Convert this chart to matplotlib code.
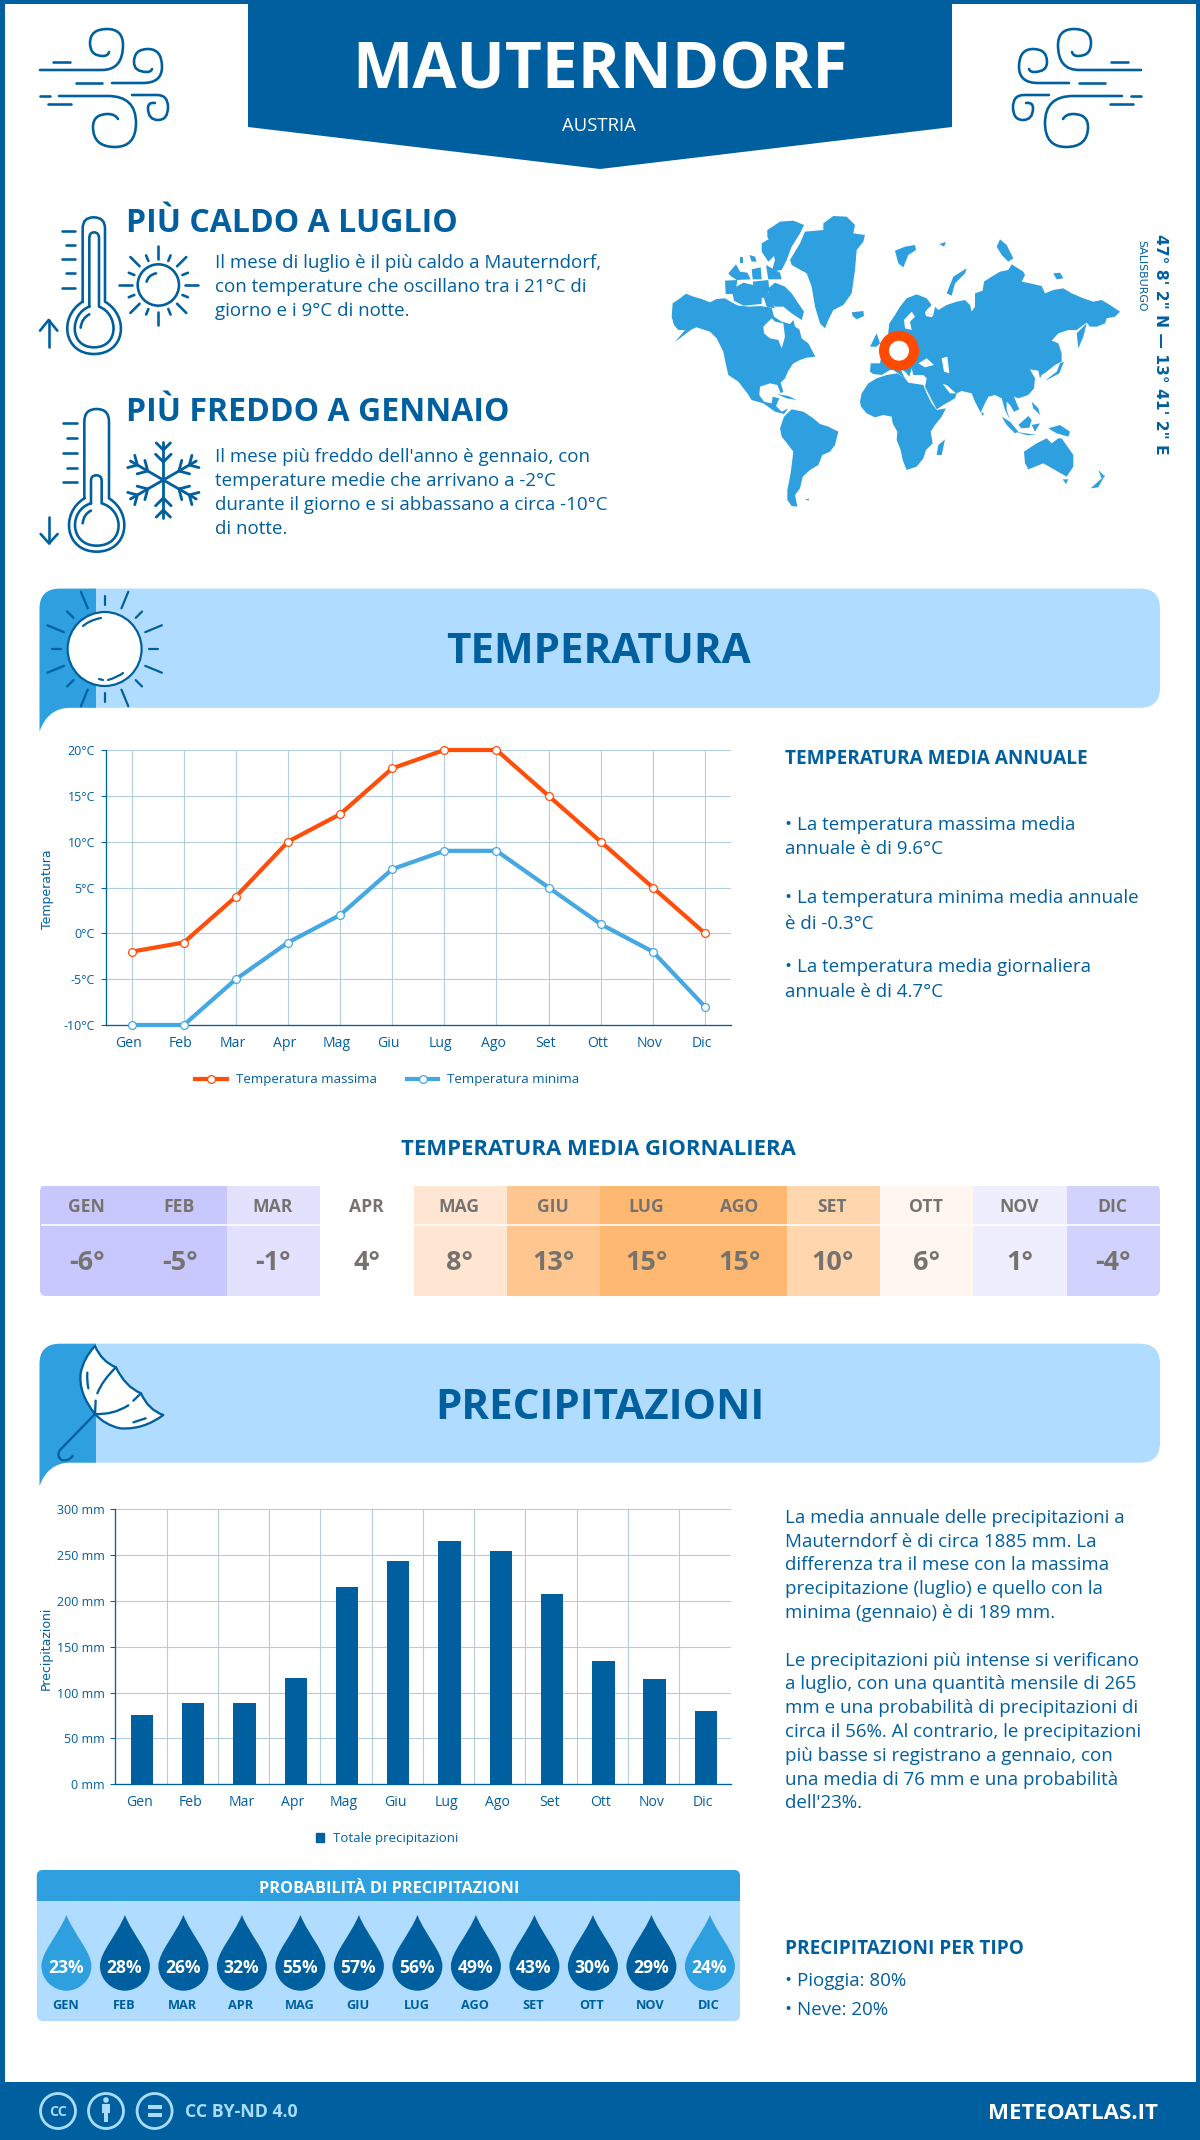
import re
import numpy as np
import matplotlib
matplotlib.use("Agg")
import matplotlib.pyplot as plt
from matplotlib.path import Path
from matplotlib.patches import PathPatch, Rectangle, Circle, Polygon, FancyBboxPatch, Patch
from matplotlib.transforms import ScaledTranslation

# ---------- data ----------
months = ["Gen", "Feb", "Mar", "Apr", "Mag", "Giu", "Lug", "Ago", "Set", "Ott", "Nov", "Dic"]
temp_max = [-2, -1, 4, 10, 13, 18, 20, 20, 15, 10, 5, 0]
temp_min = [-10, -10, -5, -1, 2, 7, 9, 9, 5, 1, -2, -8]
temp_mean = [-6, -5, -1, 4, 8, 13, 15, 15, 10, 6, 1, -4]
precip = [76, 89, 89, 116, 215, 244, 265, 254, 208, 134, 115, 80]
rain_prob = [23, 28, 26, 32, 55, 57, 56, 49, 43, 30, 29, 24]
temp_ticks = [-10, -5, 0, 5, 10, 15, 20]
precip_ticks = [0, 50, 100, 150, 200, 250, 300]

hot_lines = ["Il mese di luglio è il più caldo a Mauterndorf,",
             "con temperature che oscillano tra i 21°C di",
             "giorno e i 9°C di notte."]
cold_lines = ["Il mese più freddo dell'anno è gennaio, con",
              "temperature medie che arrivano a -2°C",
              "durante il giorno e si abbassano a circa -10°C",
              "di notte."]
temp_notes = ["• La temperatura massima media", "annuale è di 9.6°C", None,
              "• La temperatura minima media annuale", "è di -0.3°C", None,
              "• La temperatura media giornaliera", "annuale è di 4.7°C"]
precip_notes = ["La media annuale delle precipitazioni a",
                "Mauterndorf è di circa 1885 mm. La",
                "differenza tra il mese con la massima",
                "precipitazione (luglio) e quello con la",
                "minima (gennaio) è di 189 mm.", None,
                "Le precipitazioni più intense si verificano",
                "a luglio, con una quantità mensile di 265",
                "mm e una probabilità di precipitazioni di",
                "circa il 56%. Al contrario, le precipitazioni",
                "più basse si registrano a gennaio, con",
                "una media di 76 mm e una probabilità",
                "dell'23%."]

# ---------- style ----------
DARK = "#005f9e"
MID = "#2e9fdf"
LIGHT = "#b0dcff"
ORANGE = "#ff4e0a"
LINEBLUE = "#45a8e3"
GRID = "#b2cde0"
cell_colors = ["#c8c8ff", "#c8c8ff", "#e2e2ff", "#ffffff", "#ffe6d2", "#ffc78f",
               "#ffb871", "#ffb871", "#ffd6ae", "#fff6ef", "#eeeeff", "#d2d2ff"]
plt.rcParams["font.family"] = ["Open Sans", "DejaVu Sans"]
PT = 0.72  # points per pixel at dpi 100
BODY = 18.75

fig = plt.figure(figsize=(12, 21.4), dpi=100, facecolor="white")
bg = fig.add_axes([0, 0, 1, 1], zorder=3)
bg.set_xlim(0, 1200)
bg.set_ylim(2140, 0)
bg.axis("off")
bg.patch.set_alpha(0)


def subaxes(x0, y0, x1, y1, **kw):
    return fig.add_axes([x0 / 1200, 1 - y1 / 2140, (x1 - x0) / 1200, (y1 - y0) / 2140], **kw)


def T(x, y, s, px, color=DARK, weight="normal", ha="left", kind="lower", **kw):
    off = 0.357 if kind == "caps" else 0.32
    return bg.text(x, y + off * px, s, fontsize=px * PT, color=color, fontweight=weight,
                   ha=ha, va="baseline", **kw)


def make_path(d, fx=lambda x: x, fy=lambda y: y):
    tok = re.findall(r"[MLQCZ]|-?[\d.]+", d)
    v, c, i = [], [], 0
    n = {"M": 1, "L": 1, "Q": 2, "C": 3}
    code = {"M": Path.MOVETO, "L": Path.LINETO, "Q": Path.CURVE3, "C": Path.CURVE4}
    cmd = None
    while i < len(tok):
        if tok[i] in "MLQCZ":
            cmd = tok[i]
            i += 1
            if cmd == "Z":
                v.append((0, 0))
                c.append(Path.CLOSEPOLY)
                continue
        for _ in range(n[cmd]):
            v.append((fx(float(tok[i])), fy(float(tok[i + 1]))))
            c.append(code[cmd])
            i += 2
    return Path(v, c)


def stroke(d, fx=lambda x: x, fy=lambda y: y, lw=2.6, color=DARK, fill="none", z=3, capstyle="round"):
    p = PathPatch(make_path(d, fx, fy), facecolor=fill, edgecolor=color, lw=lw * PT,
                  capstyle=capstyle, joinstyle="round", zorder=z)
    bg.add_patch(p)
    return p


def solid(d, color, fx=lambda x: x, fy=lambda y: y, z=1):
    p = PathPatch(make_path(d, fx, fy), facecolor=color, edgecolor="none", lw=0, zorder=z)
    bg.add_patch(p)
    return p


# ---------- frame and header ----------
bg.add_patch(Rectangle((0, 0), 1200, 4, color=DARK, lw=0))
bg.add_patch(Rectangle((0, 0), 4.5, 2140, color=DARK, lw=0))
bg.add_patch(Rectangle((1196, 0), 4, 2140, color=DARK, lw=0))
bg.add_patch(Rectangle((0, 2082), 1200, 58, color=DARK, lw=0))
bg.add_patch(Polygon([(248, 0), (952, 0), (952, 127), (600, 169), (248, 127)], color=DARK, lw=0))
T(600, 65.8, "MAUTERNDORF", 64, color="white", weight="bold", ha="center", kind="caps")
T(599, 124, "AUSTRIA", 18.5, color="white", ha="center", kind="caps")

# wind icons
wind = [
    "M40 70 L102 70 Q123 70 123 45 Q123 29 107 29 Q90 29 90 43 Q90 56 103 56 Q108 56 109 52",
    "M53 62 L70 62",
    "M76 83 L102 83",
    "M112 83 L143 83 Q162 83 162 67 Q162 49 148 49 Q134 49 134 62 Q134 72 147 72 Q151 72 152 69",
    "M40 96 L50 96",
    "M59 96 L108 96 Q136 96 136 123 Q136 147 115 147 Q93 147 93 127 Q93 114 108 114 Q115 114 118 119",
    "M48 104 L71 104",
    "M132 95 L157 95 Q168 95 168 107 Q168 120 158 120 Q148 120 148 108 Q148 102 155 103",
]
for d in wind:
    stroke(d)
    stroke(d, fx=lambda x: 1181 - x)


# thermometers
def zx(X):
    return 30 + X / 3


def hy(Y):
    return 205 + Y / 3


def cy(Y):
    return 400 + Y / 3


hot = ["M158 290 L158 70 Q158 37 191 37 Q225 37 225 70 L225 290 C300 335 285 447 192 447 C100 447 85 335 158 290",
       "M178 305 L178 100 Q178 82 192 82 Q207 82 207 100 L207 305 C265 325 270 427 192 427 C115 427 120 325 178 305",
       "M152 368 Q155 340 178 328",
       "M97 77 L135 77", "M108 120 L135 120", "M97 163 L135 163", "M108 205 L135 205", "M97 248 L135 248",
       "M56 425 L56 345", "M30 377 L56 345 L82 377"]
for d in hot:
    stroke(d, zx, hy)
cold = ["M163 295 L163 65 Q163 27 200 27 Q237 27 237 65 L237 295 C310 340 295 455 200 455 C105 455 90 340 163 295",
        "M183 310 L183 242 Q183 226 199 226 Q215 226 215 242 L215 310 C285 330 285 437 200 437 C118 437 115 330 183 310",
        "M158 370 Q161 342 183 332",
        "M100 70 L140 70", "M110 115 L140 115", "M100 158 L140 158", "M110 203 L140 203", "M100 247 L140 247",
        "M57 350 L57 430", "M32 402 L57 430 L83 402"]
for d in cold:
    stroke(d, zx, cy)


def rays(cx, cy_, n, r1a, r1b, r2a, r2b, lw, phase=0.0, color=DARK):
    for k in range(n):
        a = phase + 2 * np.pi * k / n
        ra, rb = (r1a, r1b) if k % 2 == 0 else (r2a, r2b)
        bg.plot([cx + ra * np.cos(a), cx + rb * np.cos(a)],
                [cy_ + ra * np.sin(a), cy_ + rb * np.sin(a)],
                color=color, lw=lw * PT, solid_capstyle="round", zorder=3)


# small sun
bg.add_patch(Circle((30 + 385 / 3, 205 + 240 / 3), 62 / 3, fc="none", ec=DARK, lw=2.6 * PT, zorder=3))
rays(30 + 385 / 3, 205 + 240 / 3, 16, 26.5, 39.5, 26, 32, 2.6)
stroke("M350 230 Q355 210 378 205", zx, hy)

# snowflake
sx, sy = 30 + 400 / 3, 400 + 240 / 3
for k in range(6):
    a = np.pi / 2 + k * np.pi / 3
    u = np.array([np.cos(a), np.sin(a)])
    bg.plot([sx, sx + 38 * u[0]], [sy, sy + 38 * u[1]], color=DARK, lw=2.8 * PT, solid_capstyle="round", zorder=3)
    for r, L in ((18, 11), (30, 10)):
        for s in (-1, 1):
            b = a + s * np.pi / 4
            bg.plot([sx + r * u[0], sx + r * u[0] + L * np.cos(b)],
                    [sy + r * u[1], sy + r * u[1] + L * np.sin(b)],
                    color=DARK, lw=2.8 * PT, solid_capstyle="round", zorder=3)

# hot / cold text
T(125.5, 221, "PIÙ CALDO A LUGLIO", 32, weight="bold", kind="caps")
for i, s in enumerate(hot_lines):
    T(215, 262.5 + i * 24, s, BODY)
T(125.5, 410, "PIÙ FREDDO A GENNAIO", 32, weight="bold", kind="caps")
for i, s in enumerate(cold_lines):
    T(215, 456.5 + i * 24, s, BODY)

# ---------- world map (outline) ----------
land = [
    # North America
    [(35, 560), (38, 520), (60, 505), (78, 491), (100, 500), (125, 507), (150, 517), (170, 507), (195, 505),
     (215, 517), (235, 527), (270, 530), (300, 528), (335, 533), (342, 560), (365, 575), (390, 582), (400, 570),
     (405, 590), (418, 598), (425, 625), (445, 640), (458, 665), (466, 680), (440, 683), (420, 690), (400, 700),
     (385, 722), (375, 745), (362, 758), (370, 785), (362, 790), (352, 765), (330, 760), (300, 770), (298, 795),
     (312, 815), (335, 820), (338, 800), (358, 805), (348, 828), (365, 845), (385, 835), (372, 852), (345, 845),
     (310, 820), (275, 810), (262, 790), (235, 755), (205, 735), (197, 700), (190, 665), (170, 625), (150, 605),
     (110, 592), (95, 598), (45, 636), (75, 600), (55, 600), (42, 585)],
    # Arctic Canada
    [(325, 475), (345, 458), (375, 470), (395, 490), (415, 520), (432, 545), (425, 570), (395, 550), (370, 530),
     (345, 530), (330, 510)],
    [(215, 478), (250, 458), (280, 465), (305, 498), (305, 522), (250, 527), (222, 512)],
    [(195, 452), (232, 450), (226, 492), (197, 492)],
    [(205, 430), (228, 403), (240, 425), (262, 428), (272, 448), (230, 450), (212, 438)],
    [(275, 418), (302, 412), (305, 448), (278, 448)],
    [(278, 455), (325, 450), (328, 482), (312, 505), (285, 495)],
    [(325, 485), (345, 535), (320, 530), (312, 505)],
    [(268, 375), (285, 380), (290, 395), (275, 395)],
    [(240, 380), (250, 380), (250, 400), (240, 400)],
    [(305, 340), (325, 328), (345, 350), (345, 375), (325, 395), (305, 365)],
    [(322, 300), (345, 285), (360, 275), (400, 272), (432, 285), (420, 310), (395, 350), (380, 390), (365, 420),
     (335, 425), (345, 390), (335, 350), (322, 320)],
    [(318, 405), (360, 428), (365, 448), (325, 448)],
    # Greenland
    [(390, 390), (420, 340), (435, 305), (490, 300), (490, 280), (520, 258), (560, 260), (585, 285), (580, 310),
     (615, 315), (610, 335), (590, 360), (585, 420), (575, 490), (550, 525), (520, 540), (505, 570), (495, 595),
     (480, 580), (465, 530), (455, 470), (440, 430), (395, 405)],
    # Iceland, Svalbard, Arctic Russia
    [(575, 547), (610, 543), (612, 558), (590, 568), (578, 558)],
    [(705, 362), (735, 350), (765, 345), (768, 360), (745, 375), (730, 412), (715, 400)],
    [(838, 342), (858, 336), (852, 350)],
    [(1010, 350), (1020, 328), (1040, 345), (1060, 385), (1045, 395), (1025, 375)],
    [(860, 490), (880, 440), (920, 415), (915, 430), (885, 460), (875, 497)],
    [(1180, 430), (1200, 428), (1210, 445), (1190, 448)],
    # Eurasia
    [(685, 605), (688, 580), (705, 555), (720, 530), (740, 505), (770, 493), (800, 505), (815, 525), (800, 540),
     (795, 548), (820, 555), (825, 530), (835, 540), (860, 525), (890, 515), (915, 510), (930, 525), (935, 545),
     (945, 530), (945, 490), (968, 482), (972, 455), (995, 440), (1020, 425), (1045, 420), (1055, 403), (1090, 425),
     (1095, 435), (1085, 455), (1110, 460), (1145, 468), (1155, 490), (1180, 480), (1210, 475), (1235, 490),
     (1270, 505), (1300, 515), (1325, 510), (1350, 525), (1380, 545), (1365, 560), (1340, 565), (1335, 580),
     (1310, 590), (1290, 590), (1280, 578), (1250, 600), (1225, 600), (1195, 610), (1175, 632), (1195, 640),
     (1205, 670), (1205, 695), (1185, 705), (1160, 725), (1145, 735), (1140, 745), (1135, 722), (1110, 718),
     (1125, 745), (1122, 775), (1105, 795), (1075, 805), (1062, 800), (1072, 825), (1078, 838), (1062, 845),
     (1050, 825), (1040, 815), (1040, 840), (1050, 870), (1035, 840), (1025, 805), (1005, 795), (985, 800),
     (970, 830), (962, 848), (945, 815), (935, 790), (905, 783), (890, 790), (885, 805), (850, 825), (830, 838),
     (815, 810), (795, 770), (800, 745), (790, 735), (760, 735), (755, 715), (748, 740), (735, 725), (720, 715),
     (735, 745), (700, 720), (690, 720), (665, 735), (640, 732), (630, 725), (632, 700), (660, 700), (665, 670),
     (660, 640), (685, 615)],
    # Kamchatka, Japan, UK
    [(1250, 610), (1280, 580), (1270, 620), (1255, 655)],
    [(1155, 752), (1190, 725), (1200, 700), (1212, 695), (1198, 730), (1170, 745)],
    [(630, 650), (650, 610), (660, 640), (650, 650)],
    # Africa
    [(600, 815), (605, 790), (625, 760), (650, 745), (680, 735), (712, 730), (735, 745), (745, 758), (790, 765),
     (800, 790), (815, 820), (830, 840), (858, 835), (845, 860), (825, 885), (812, 905), (818, 940), (798, 960),
     (790, 985), (770, 1010), (740, 1020), (728, 990), (722, 960), (710, 930), (712, 905), (698, 880), (695, 860),
     (670, 855), (645, 862), (620, 850), (603, 830)],
    [(830, 975), (835, 945), (855, 928), (845, 975)],
    # South America
    [(360, 895), (372, 860), (395, 838), (430, 845), (460, 865), (480, 882), (505, 890), (535, 905), (525, 945),
     (510, 965), (487, 975), (475, 1005), (450, 1020), (428, 1040), (420, 1075), (405, 1095), (412, 1130),
     (395, 1128), (382, 1110), (382, 1080), (392, 1030), (400, 965), (385, 945), (365, 920)],
    [(435, 1108), (448, 1106), (445, 1112)],
    # Oceania
    [(1092, 965), (1130, 940), (1160, 925), (1175, 940), (1195, 925), (1205, 925), (1240, 975), (1240, 1010),
     (1220, 1040), (1185, 1020), (1150, 1000), (1105, 1018), (1095, 1000)],
    [(1292, 1075), (1325, 1045), (1335, 1035), (1315, 1072)],
    [(1315, 1020), (1335, 1040), (1325, 1045)],
    [(1208, 1048), (1225, 1048), (1218, 1062)],
    # South-east Asia
    [(1075, 885), (1105, 858), (1115, 870), (1108, 893), (1085, 895)],
    [(1025, 860), (1050, 875), (1075, 905), (1065, 910), (1040, 885)],
    [(1065, 905), (1130, 915), (1100, 915)],
    [(1165, 895), (1200, 885), (1230, 905), (1225, 920), (1190, 910)],
    [(1115, 885), (1140, 880), (1125, 905)],
    [(1115, 815), (1135, 835), (1140, 855), (1120, 835)],
    # Cuba, Hispaniola, Sri Lanka
    [(350, 792), (385, 798), (410, 810), (380, 805)],
    [(963, 846), (972, 850), (968, 858)],
]
seas = [
    [(310, 590), (335, 565), (345, 575), (370, 580), (375, 620), (365, 655), (355, 630), (330, 625), (312, 610)],
    [(775, 700), (800, 685), (822, 705), (795, 712)],
    [(845, 685), (862, 680), (868, 730), (852, 725)],
    [(735, 595), (732, 570), (755, 545), (765, 560), (750, 575), (755, 600)],
    [(848, 762), (860, 765), (888, 790), (870, 790)],
    [(795, 548), (820, 555), (815, 562), (798, 558)],
]
for poly in land:
    bg.add_patch(Polygon([(660 + x / 3, 130 + y / 3) for x, y in poly], fc=MID, ec="none", lw=0, zorder=1))
for poly in seas:
    bg.add_patch(Polygon([(660 + x / 3, 130 + y / 3) for x, y in poly], fc="white", ec="none", lw=0, zorder=1.5))
bg.add_patch(Circle((899, 350.7), 15, fc="white", ec="#ff4a00", lw=10 * PT, zorder=3))

bg.text(1160.6, 344.5, "47° 8' 2\" N — 13° 41' 2\" E", fontsize=15.5 * PT, color=DARK, fontweight="bold",
        rotation=-90, ha="center", va="center", family="DejaVu Sans")
bg.text(1141.5, 276, "SALISBURGO", fontsize=11 * PT, color=DARK, rotation=-90, ha="center", va="center",
        family="DejaVu Sans")


# ---------- section banners ----------
def banner(y0, y1, tip):
    solid(f"M90 {y0} L1140 {y0} Q1160 {y0} 1160 {y0 + 20} L1160 {y1 - 20} Q1160 {y1} 1140 {y1} L90 {y1} Z", LIGHT)
    solid(f"M39.5 {y0 + 20} Q39.5 {y0} 60 {y0} L96 {y0} L96 {y1} L70 {y1} Q48 {y1} 39.5 {tip} Z", MID, z=1.2)


banner(588.6, 707.8, 731.5)
T(598.5, 648, "TEMPERATURA", 42.1, weight="bold", ha="center", kind="caps")
banner(1343.7, 1462.7, 1486)
T(599.5, 1404, "PRECIPITAZIONI", 42.1, weight="bold", ha="center", kind="caps")

# big sun
bcx, bcy = 104.6, 649
bg.add_patch(Circle((bcx, bcy), 37, fc="white", ec=DARK, lw=2.2 * PT, zorder=3))
rays(bcx, bcy, 16, 44, 53, 44, 62, 2.2, phase=0.0)
stroke("M83 626 Q90 620 101 618", lw=2.2)
stroke("M108 680 Q118 677 123 673", lw=2.2)
stroke("M99 679 L103 680", lw=2.2)


# umbrella
def ux(X):
    return 30 + X / 3


def uy(Y):
    return 1330 + Y / 3


canopy = ("M195 48 Q215 95 258 112 Q285 170 333 190 Q355 240 400 255 Q340 300 270 295 Q225 285 195 252 "
          "Q145 190 152 130 Q160 85 195 48")
stroke(canopy, ux, uy, lw=2.3, fill="white")
for d in ["M195 252 L90 360 Q78 378 95 390 Q115 395 128 378",
          "M258 112 Q218 150 202 190", "M197 212 L195 252",
          "M195 252 Q250 255 295 226", "M310 212 L333 190",
          "M172 128 Q170 150 175 175", "M310 277 L347 265"]:
    stroke(d, ux, uy, lw=2.3)

# ---------- temperature chart ----------
ax = subaxes(105.6, 750, 731, 1025, zorder=1)
x = np.arange(len(months))
ax.plot(x, temp_max, color=ORANGE, lw=4.2 * PT, marker="o", ms=5.6, mfc="white", mec=ORANGE, mew=0.9,
        clip_on=False, zorder=4, label="Temperatura massima")
ax.plot(x, temp_min, color=LINEBLUE, lw=4.2 * PT, marker="o", ms=5.6, mfc="white", mec=LINEBLUE, mew=0.9,
        clip_on=False, zorder=3, label="Temperatura minima")
ax.set_xlim(-0.5, 11.5)
ax.set_ylim(-10, 20)
ax.set_xticks(x, months)
ax.set_yticks(temp_ticks, [f"{v}°C" for v in temp_ticks])
ax.grid(True, color=GRID, lw=1.1 * PT)
ax.set_axisbelow(True)
for s in ("top", "right"):
    ax.spines[s].set_visible(False)
for s in ("left", "bottom"):
    ax.spines[s].set_color(DARK)
    ax.spines[s].set_linewidth(1.3 * PT)
ax.tick_params(axis="x", length=0, pad=8, labelsize=14 * PT, labelcolor=DARK)
ax.tick_params(axis="y", length=5 * PT, width=1 * PT, color=DARK, pad=4, labelsize=12.5 * PT, labelcolor=DARK)
for lb in ax.get_xticklabels():
    lb.set_transform(lb.get_transform() + ScaledTranslation(-3.5 / 100, 0, fig.dpi_scale_trans))
bg.text(47, 889, "Temperatura", fontsize=12.5 * PT, color=DARK, rotation=90, ha="center", va="center",
        family="DejaVu Sans")
ax.legend(loc="center", bbox_to_anchor=(387.5 / 1200, 1 - 1080 / 2140), bbox_transform=fig.transFigure, ncols=2,
          frameon=False, fontsize=13.3 * PT, labelcolor=DARK, handlelength=2.35, handletextpad=0.68,
          columnspacing=2.3, numpoints=1)

# temperature notes
T(785, 757, "TEMPERATURA MEDIA ANNUALE", 18.95, weight="bold", kind="caps")
note_y = [824.5, 848, None, 897, 923, None, 966, 991]
for s, yy in zip(temp_notes, note_y):
    if s:
        T(785, yy, s, BODY)

# ---------- daily mean table ----------
T(598, 1147, "TEMPERATURA MEDIA GIORNALIERA", 22.15, weight="bold", ha="center", kind="caps")
clip = FancyBboxPatch((46, 1191), 1108, 99, boxstyle="round,pad=6,rounding_size=6", fc="none", ec="none",
                      transform=bg.transData)
bg.add_patch(clip)
tb = subaxes(40.5, 1185.7, 1160, 1296, zorder=1)
tb.bar(x, np.ones(12), width=1.0, bottom=0, color=cell_colors, clip_path=clip)
tb.set_xlim(-0.5, 11.5)
tb.set_ylim(0, 1)
tb.axis("off")
tb.axhline(1 - (1225.3 - 1185.7) / (1296 - 1185.7), color="white", lw=1.6 * PT)
for i, (m, v) in enumerate(zip(months, temp_mean)):
    cx = 40.5 + (i + 0.5) * (1160 - 40.5) / 12
    T(cx - 1, 1205.7, m.upper(), 17.5, color="#76736f", weight="bold", ha="center", kind="caps")
    T(cx - 0.5, 1260.7, f"{v}°", 27, color="#76736f", weight="bold", ha="center", kind="caps")

# ---------- precipitation chart ----------
ap = subaxes(115.4, 1509.3, 730.5, 1784.3, zorder=1)
ap.bar(x + 0.02, precip, width=0.435, color=DARK, zorder=3, label="Totale precipitazioni")
ap.set_xlim(-0.5, 11.5)
ap.set_ylim(0, 300)
ap.set_xticks(x, months)
ap.set_xticks(x[:-1] + 0.5, minor=True)
ap.set_yticks(precip_ticks, [f"{v} mm" for v in precip_ticks])
ap.grid(True, axis="y", color=GRID, lw=1.1 * PT)
ap.grid(True, axis="x", which="minor", color=GRID, lw=1.1 * PT)
ap.set_axisbelow(True)
for s in ("top", "right"):
    ap.spines[s].set_visible(False)
for s in ("left", "bottom"):
    ap.spines[s].set_color(DARK)
    ap.spines[s].set_linewidth(1.3 * PT)
ap.tick_params(axis="x", which="both", length=0, pad=8, labelsize=14 * PT, labelcolor=DARK)
ap.tick_params(axis="y", length=5 * PT, width=1 * PT, color=DARK, pad=4, labelsize=12.5 * PT, labelcolor=DARK)
for lb in ap.get_xticklabels():
    lb.set_transform(lb.get_transform() + ScaledTranslation(-2 / 100, 0, fig.dpi_scale_trans))
bg.text(46, 1648, "Precipitazioni", fontsize=12.5 * PT, color=DARK, rotation=90, ha="center", va="center",
        family="DejaVu Sans")
ap.legend(handles=[Patch(color=DARK, label="Totale precipitazioni")], loc="center",
          bbox_to_anchor=(387 / 1200, 1 - 1838.7 / 2140), bbox_transform=fig.transFigure, frameon=False,
          fontsize=13.3 * PT, labelcolor=DARK, handlelength=0.6, handleheight=0.6, handletextpad=0.7)

# precipitation notes
py = 1516.9
for s in precip_notes:
    if s:
        T(785, py, s, BODY)
    py += 23.8
T(785, 1947, "PRECIPITAZIONI PER TIPO", 19, weight="bold", kind="caps")
T(785, 1980, "• Pioggia: 80%", BODY)
T(785, 2009, "• Neve: 20%", BODY)

# ---------- rain probability panel ----------
bg.add_patch(FancyBboxPatch((43, 1876), 691, 139, boxstyle="round,pad=6,rounding_size=6", fc=LIGHT, ec="none", lw=0))
solid("M36.8 1901 L36.8 1876 Q36.8 1870 43 1870 L734 1870 Q740 1870 740 1876 L740 1901 Z", MID, z=1.2)
T(389, 1887, "PROBABILITÀ DI PRECIPITAZIONI", 16.2, color="white", weight="bold", ha="center", kind="caps")
for i, (m, p) in enumerate(zip(months, rain_prob)):
    cx = 66.4 + i * 58.5
    col = MID if p < 25 else DARK
    d = (f"M{cx} 1915 C{cx + 8} 1935 {cx + 25} 1952 {cx + 25} 1966 C{cx + 25} 1980 {cx + 13} 1990.7 {cx} 1990.7 "
         f"C{cx - 13} 1990.7 {cx - 25} 1980 {cx - 25} 1966 C{cx - 25} 1952 {cx - 8} 1935 {cx} 1915")
    solid(d, col, z=2)
    T(cx - 0.5, 1966.7, f"{p}%", 17.5, color="white", weight="bold", ha="center", kind="caps", zorder=4)
    T(cx - 1, 2004.7, m.upper(), 12.8, weight="bold", ha="center", kind="caps")

# ---------- footer ----------
FOOT = "#a9dcff"
for c in (58, 106, 154.6):
    bg.add_patch(Circle((c, 2111), 17.5, fc="none", ec=FOOT, lw=2.8 * PT, zorder=3))
T(58, 2111, "CC", 14, color=FOOT, weight="bold", ha="center", kind="caps", zorder=4)
bg.add_patch(Circle((106, 2100), 2.8, fc=FOOT, ec="none", zorder=4))
bg.add_patch(Rectangle((102, 2104), 8, 9, fc=FOOT, ec="none", zorder=4))
bg.add_patch(Rectangle((104, 2112), 4, 10, fc=FOOT, ec="none", zorder=4))
bg.add_patch(Rectangle((147.5, 2105), 14, 3.5, fc=FOOT, ec="none", zorder=4))
bg.add_patch(Rectangle((147.5, 2113), 14, 3.5, fc=FOOT, ec="none", zorder=4))
T(185, 2111, "CC BY-ND 4.0", 17.8, color=FOOT, weight="bold", kind="caps", zorder=4)
T(1158, 2111, "METEOATLAS.IT", 22.3, color="white", weight="bold", ha="right", kind="caps", zorder=4)

fig.savefig("out.png", dpi=100, facecolor="white")
